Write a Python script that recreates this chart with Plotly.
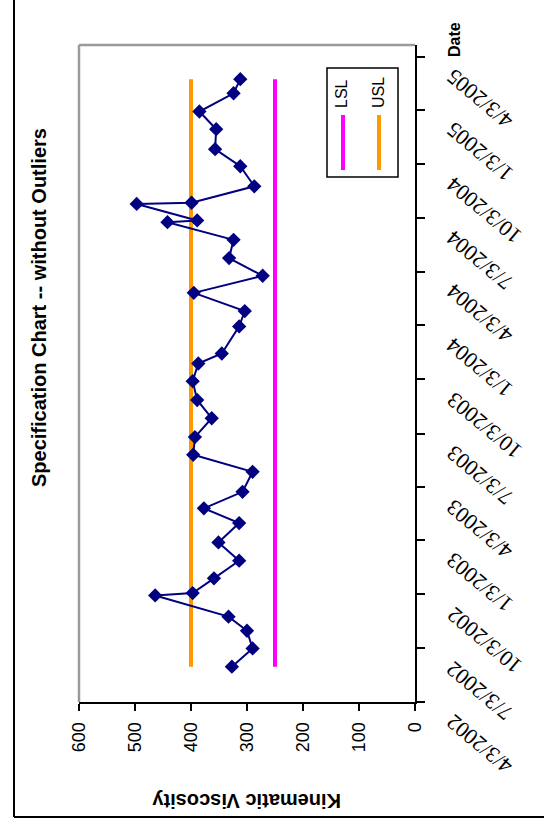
import plotly.graph_objects as go

dates = [
    "2002-06-02", "2002-07-03", "2002-08-02", "2002-08-26", "2002-10-01",
    "2002-10-05", "2002-10-30", "2002-11-29", "2002-12-30", "2003-02-01",
    "2003-02-26", "2003-03-26", "2003-04-29", "2003-05-28", "2003-06-27",
    "2003-07-29", "2003-08-29", "2003-09-30", "2003-10-30", "2003-11-16",
    "2004-01-01", "2004-01-27", "2004-02-27", "2004-03-27", "2004-04-26",
    "2004-05-27", "2004-06-26", "2004-06-29", "2004-07-27", "2004-07-29",
    "2004-08-26", "2004-09-29", "2004-10-28", "2004-12-01", "2004-12-31",
    "2005-01-31", "2005-02-24",
]
viscosity = [
    327, 290, 300, 333, 464,
    397, 359, 314, 351, 314,
    377, 308, 290, 396, 393,
    363, 389, 397, 387, 345,
    314, 304, 395, 272, 332,
    324, 442, 389, 497, 399,
    287, 312, 357, 355, 385,
    324, 312,
]

LSL = 250
USL = 400

quarter_ticks = [
    "2002-04-03", "2002-07-03", "2002-10-03", "2003-01-03", "2003-04-03",
    "2003-07-03", "2003-10-03", "2004-01-03", "2004-04-03", "2004-07-03",
    "2004-10-03", "2005-01-03", "2005-04-03",
]
quarter_labels = [
    "4/3/2002", "7/3/2002", "10/3/2002", "1/3/2003", "4/3/2003",
    "7/3/2003", "10/3/2003", "1/3/2004", "4/3/2004", "7/3/2004",
    "10/3/2004", "1/3/2005", "4/3/2005",
]
value_ticks = [0, 100, 200, 300, 400, 500, 600]

# zone de tracé en pixels (le graphique Excel est tourné de 90°)
W, H = 544, 821
L, R, T, B = 79, 415, 45, 702


def px(x):
    return (x - L) / (R - L)


def py(y):
    return (B - y) / (B - T)


fig = go.Figure()

fig.add_trace(go.Scatter(
    x=[USL, USL], y=[dates[0], dates[-1]], mode="lines",
    line=dict(color="#FF9900", width=4), name="USL", showlegend=False,
))
fig.add_trace(go.Scatter(
    x=[LSL, LSL], y=[dates[0], dates[-1]], mode="lines",
    line=dict(color="#FF00FF", width=4), name="LSL", showlegend=False,
))
fig.add_trace(go.Scatter(
    x=viscosity, y=dates, mode="lines+markers",
    line=dict(color="#000080", width=2),
    marker=dict(symbol="diamond", size=11, color="#000080"),
    showlegend=False,
))

shapes = [
    # bordure grise de la zone de tracé
    dict(type="line", xref="paper", yref="paper", x0=px(79), x1=px(79), y0=py(45), y1=py(702),
         line=dict(color="#9a9a9a", width=2.5)),
    dict(type="line", xref="paper", yref="paper", x0=px(79), x1=px(415), y0=py(45), y1=py(45),
         line=dict(color="#9a9a9a", width=2.5)),
    # bordure extérieure (gauche et bas)
    dict(type="line", xref="paper", yref="paper", x0=px(14), x1=px(14), y0=py(0), y1=py(817),
         line=dict(color="black", width=2)),
    dict(type="line", xref="paper", yref="paper", x0=px(14), x1=px(544), y0=py(817), y1=py(817),
         line=dict(color="black", width=2)),
    # légende
    dict(type="rect", xref="paper", yref="paper", x0=px(327), x1=px(398), y0=py(68), y1=py(177),
         line=dict(color="black", width=1.5), fillcolor="white"),
    dict(type="line", xref="paper", yref="paper", x0=px(343), x1=px(343), y0=py(115), y1=py(170),
         line=dict(color="#FF00FF", width=4)),
    dict(type="line", xref="paper", yref="paper", x0=px(379), x1=px(379), y0=py(115), y1=py(170),
         line=dict(color="#FF9900", width=4)),
]

annotations = [
    dict(text="<b>Specification Chart -- without Outliers</b>", x=px(39), y=py(308),
         textangle=-90, font=dict(family="Arial", size=20, color="black")),
    dict(text="<b>Kinematic Viscosity</b>", x=px(247), y=py(801),
         textangle=180, font=dict(family="Arial", size=20, color="black")),
    dict(text="<b>Date</b>", x=px(455), y=py(40),
         textangle=-90, font=dict(family="Arial", size=16, color="black")),
    dict(text="LSL", x=px(341), y=py(94), textangle=-90,
         font=dict(family="Arial", size=16, color="black")),
    dict(text="USL", x=px(378), y=py(93), textangle=-90,
         font=dict(family="Arial", size=16, color="black")),
]
for a in annotations:
    a.update(xref="paper", yref="paper", showarrow=False, xanchor="center", yanchor="middle")

for d, lab in zip(quarter_ticks, quarter_labels):
    annotations.append(dict(
        text=lab, xref="paper", yref="y", x=px(439), y=d, xanchor="left", yanchor="top",
        yshift=-5, textangle=-140, showarrow=False,
        font=dict(family="Liberation Serif", size=22, color="black"),
    ))

fig.update_layout(
    width=W, height=H, autosize=False,
    margin=dict(l=L, r=W - R, t=T, b=H - B, pad=0),
    paper_bgcolor="white", plot_bgcolor="white",
    showlegend=False,
    shapes=shapes, annotations=annotations,
    xaxis=dict(
        range=[600, 0], tickvals=value_ticks, tickangle=-90,
        ticks="outside", ticklen=7, tickwidth=2, tickcolor="black",
        showline=True, linecolor="black", linewidth=2,
        showgrid=False, zeroline=False, ticklabelstandoff=4,
        tickfont=dict(family="Arial", size=18, color="black"),
    ),
    yaxis=dict(
        type="date", range=["2002-04-03", "2005-04-23"], side="right",
        tickvals=quarter_ticks, showticklabels=False,
        ticks="outside", ticklen=8, tickwidth=2, tickcolor="black",
        showline=True, linecolor="black", linewidth=2,
        showgrid=False, zeroline=False,
    ),
)

# pas de marge autour du graphique dans la page, pas de barre d'outils
fig.write_html(
    "out.html",
    config={"displayModeBar": False},
    post_script="document.body.style.margin='0';document.body.style.overflow='hidden';",
)
